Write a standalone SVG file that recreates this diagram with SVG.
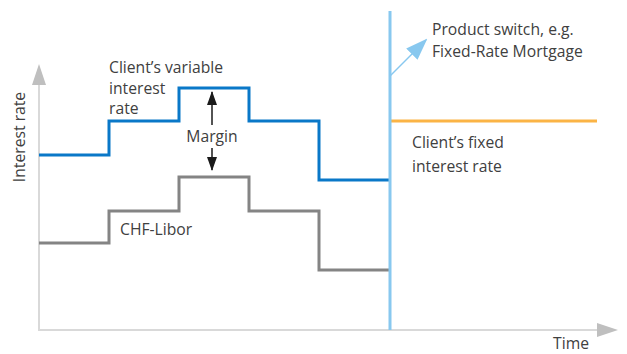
<svg xmlns="http://www.w3.org/2000/svg" width="627" height="354" viewBox="0 0 627 354">
<style>
text{font-family:"Open Sans","Noto Sans","Liberation Sans",sans-serif;font-size:15.7px;fill:#404040}
.axis{stroke:#d9d9d9;stroke-width:2;fill:none}
.head{fill:#bfbfbf}
.var{stroke:#0a78c8;stroke-width:3;fill:none}
.libor{stroke:#848484;stroke-width:3;fill:none}
.fixed{stroke:#fbb445;stroke-width:3;fill:none}
.switch{stroke:#88c8ef;stroke-width:3;fill:none}
</style>
<defs>
<marker id="ah" markerWidth="14" markerHeight="10" refX="13" refY="5" orient="auto" markerUnits="userSpaceOnUse" viewBox="0 0 14 10"><path d="M0,0 L14,5 L0,10 Z" fill="#1a1a1a"/></marker>
<marker id="bh" markerWidth="22" markerHeight="22" refX="20" refY="11" orient="auto" markerUnits="userSpaceOnUse" viewBox="0 0 22 22"><path d="M0,3 L22,11 L0,19 Z" fill="#88c8ef"/></marker>
</defs>
<g id="axes">
<path class="axis" d="M39,84 V330 H598"/>
<path class="head" d="M39,64 L46,85 L32,85 Z"/>
<path class="head" d="M618,330 L597,323 L597,337 Z"/>
<text transform="translate(25,137) rotate(-90)" text-anchor="middle">Interest rate</text>
<text x="571" y="349" text-anchor="middle">Time</text>
</g>
<g id="variable-rate">
<path class="var" d="M39,155 H109 V121 H179 V88 H249 V121 H319 V180 H389"/>
<text x="109" y="73">Client’s variable</text>
<text x="109" y="94">interest</text>
<text x="109" y="114">rate</text>
</g>
<g id="libor">
<path class="libor" d="M39,243 H109 V211 H179 V177 H249 V211 H319 V270 H389"/>
<text x="120" y="235">CHF-Libor</text>
</g>
<g id="fixed-rate">
<path class="fixed" d="M391,121 H597"/>
<text x="412" y="148">Client’s fixed</text>
<text x="412" y="172">interest rate</text>
</g>
<g id="product-switch">
<path class="switch" d="M390,11 V330"/>
<text x="432" y="35">Product switch, e.g.</text>
<text x="432" y="57">Fixed-Rate Mortgage</text>
</g>
<g id="connectors">
<line x1="390" y1="76" x2="426" y2="40" stroke="#88c8ef" stroke-width="1.5" marker-end="url(#bh)"/>
<line x1="212" y1="125" x2="212" y2="92" stroke="#1a1a1a" stroke-width="1.5" marker-end="url(#ah)"/>
<line x1="212" y1="148" x2="212" y2="170" stroke="#1a1a1a" stroke-width="1.5" marker-end="url(#ah)"/>
<text x="212" y="142" text-anchor="middle">Margin</text>
</g>
</svg>
